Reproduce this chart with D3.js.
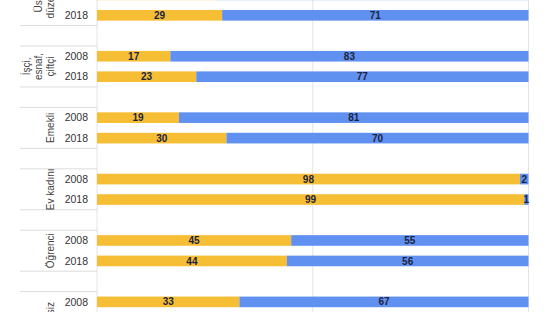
<!DOCTYPE html>
<html lang="tr">
  <head>
    <meta charset="UTF-8" />
    <script src="https://d3js.org/d3.v7.min.js"></script>
    <style>
      body { margin: 0; background: #fff; }
    </style>
  </head>
  <body>
    <div id="chart"></div>
    <script>
      // data
      const groups = ["Üst düzey", "İşçi, esnaf, çiftçi", "Emekli", "Ev kadını", "Öğrenci", "İşsiz"];
      const groupLines = [["Üst", "düzey"], ["İşçi,", "esnaf,", "çiftçi"], ["Emekli"], ["Ev kadını"], ["Öğrenci"], ["İşsiz"]];
      const years = ["2008", "2018"];
      const yellow2008 = [28, 17, 19, 98, 45, 33];
      const blue2008 = [72, 83, 81, 2, 55, 67];
      const yellow2018 = [29, 23, 30, 99, 44, 35];
      const blue2018 = [71, 77, 70, 1, 56, 65];

      const W = 555, H = 312;
      const step = 20.47;
      const startY = -15.4;

      const svg = d3.select("#chart").append("svg")
        .attr("width", W).attr("height", H);

      // rows: 2008, 2018, spacer for each group
      const rows = [];
      groups.forEach((g, i) => {
        rows.push(g + "|2008", g + "|2018", g + "|gap");
      });

      const y = d3.scaleBand()
        .domain(rows)
        .range([startY, startY + step * rows.length])
        .paddingInner(0.48)
        .paddingOuter(0.24);

      const x = d3.scaleLinear().domain([0, 100]).range([97, 528.5]);

      const data = [];
      groups.forEach((g, i) => {
        data.push({ group: g, year: "2008", yes: yellow2008[i], no: blue2008[i] });
        data.push({ group: g, year: "2018", yes: yellow2018[i], no: blue2018[i] });
      });

      // vertical grid lines
      svg.append("g").selectAll("line")
        .data([0, 50, 100])
        .join("line")
        .attr("x1", d => x(d)).attr("x2", d => x(d))
        .attr("y1", 0).attr("y2", H)
        .attr("stroke", "#e4e4e4")
        .attr("stroke-width", 1);

      // group separators on the left
      const sep = svg.append("g");
      groups.forEach(g => {
        const y0 = y(g + "|2008") - y.step() * 0.24;
        const y1 = y(g + "|2018") + y.bandwidth() + y.step() * 0.24;
        [y0, y1].forEach(v => {
          sep.append("line")
            .attr("x1", 20).attr("x2", 97)
            .attr("y1", v).attr("y2", v)
            .attr("stroke", "#dcdcdc");
        });
      });

      // group labels, rotated
      const gl = svg.append("g")
        .style("font-family", "'Liberation Sans', Arial, sans-serif")
        .style("font-size", "10px")
        .attr("fill", "#444");
      groups.forEach((g, i) => {
        const cy = y(g + "|2008") - y.step() * 0.24 + y.step();
        const lines = groupLines[i];
        const t = gl.append("text")
          .attr("transform", `translate(50, ${cy}) rotate(-90)`)
          .attr("text-anchor", "middle");
        lines.forEach((l, j) => {
          t.append("tspan")
            .attr("x", 0)
            .attr("y", (j - (lines.length - 1)) * 11.8)
            .attr("dy", "0.35em")
            .text(l);
        });
      });

      // year labels
      svg.append("g")
        .style("font-family", "'Liberation Sans', Arial, sans-serif")
        .style("font-size", "10.5px")
        .attr("fill", "#333")
        .selectAll("text")
        .data(data)
        .join("text")
        .attr("x", 88)
        .attr("y", d => y(d.group + "|" + d.year) + y.bandwidth() / 2)
        .attr("dy", "0.35em")
        .attr("text-anchor", "end")
        .text(d => d.year);

      // bars
      const bars = svg.append("g");
      bars.selectAll("rect.yes")
        .data(data)
        .join("rect")
        .attr("class", "yes")
        .attr("x", x(0))
        .attr("y", d => y(d.group + "|" + d.year))
        .attr("width", d => x(d.yes) - x(0))
        .attr("height", y.bandwidth())
        .attr("fill", "#f6be34");
      bars.selectAll("rect.no")
        .data(data)
        .join("rect")
        .attr("class", "no")
        .attr("x", d => x(d.yes))
        .attr("y", d => y(d.group + "|" + d.year))
        .attr("width", d => x(d.yes + d.no) - x(d.yes))
        .attr("height", y.bandwidth())
        .attr("fill", "#6191f0");

      // value labels
      const lab = svg.append("g")
        .style("font-family", "'Liberation Sans', Arial, sans-serif")
        .style("font-size", "10px")
        .style("font-weight", "bold")
        .attr("fill", "#1b2340")
        .attr("text-anchor", "middle");
      lab.selectAll("text.yes")
        .data(data)
        .join("text")
        .attr("class", "yes")
        .attr("x", d => (x(0) + x(d.yes)) / 2)
        .attr("y", d => y(d.group + "|" + d.year) + y.bandwidth() / 2)
        .attr("dy", "0.36em")
        .text(d => d.yes);
      lab.selectAll("text.no")
        .data(data)
        .join("text")
        .attr("class", "no")
        .attr("x", d => (x(d.yes) + x(d.yes + d.no)) / 2)
        .attr("y", d => y(d.group + "|" + d.year) + y.bandwidth() / 2)
        .attr("dy", "0.36em")
        .text(d => d.no);
    </script>
  </body>
</html>
